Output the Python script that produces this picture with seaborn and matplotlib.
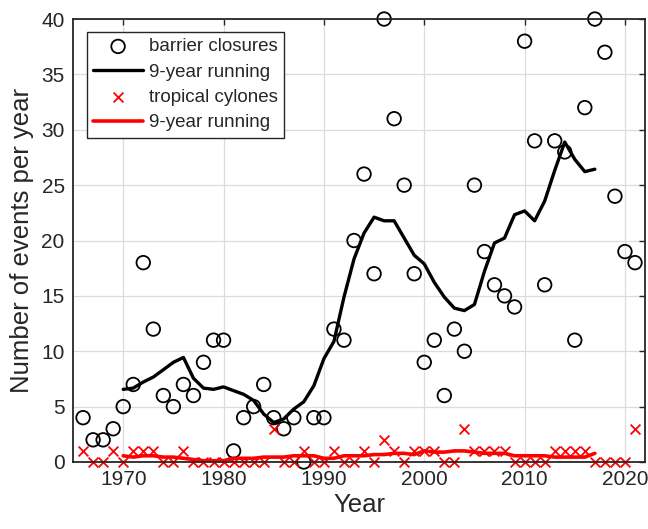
import pandas as pd
import matplotlib.pyplot as plt
import seaborn as sns

# barrier closures per year (1966-2021)
years = list(range(1966, 2022))
closures = [4, 2, 2, 3, 5, 7, 18, 12, 6, 5, 7, 6, 9, 11, 11, 1, 4, 5, 7, 4,
            3, 4, 0, 4, 4, 12, 11, 20, 26, 17, 40, 31, 25, 17, 9, 11, 6, 12, 10, 25,
            19, 16, 15, 14, 38, 29, 16, 29, 28, 11, 32, 40, 37, 24, 19, 18]
cyclones = [1, 0, 0, 1, 0, 1, 1, 1, 0, 0, 1, 0, 0, 0, 0, 0, 0, 0, 0, 3,
            0, 0, 1, 0, 0, 1, 0, 0, 1, 0, 2, 1, 0, 1, 1, 1, 0, 0, 3, 1,
            1, 1, 1, 0, 0, 0, 0, 1, 1, 1, 1, 0, 0, 0, 0, 3]

# 9-year running values (1970-2017)
run_years = list(range(1970, 2018))
closures_run = [6.56, 6.67, 7.22, 7.67, 8.33, 9.0, 9.44, 7.56, 6.67, 6.56,
                6.78, 6.44, 6.11, 5.56, 4.33, 3.56, 3.89, 4.78, 5.44, 6.89,
                9.33, 10.89, 14.89, 18.33, 20.67, 22.11, 21.78, 21.78, 20.22, 18.67,
                17.89, 16.22, 14.89, 13.89, 13.67, 14.22, 17.22, 19.78, 20.22, 22.33,
                22.67, 21.78, 23.56, 26.33, 28.89, 27.33, 26.22, 26.44]
cyclones_run = [0.56, 0.44, 0.56, 0.56, 0.44, 0.44, 0.33, 0.22, 0.11, 0.11,
                0.11, 0.33, 0.33, 0.33, 0.44, 0.44, 0.44, 0.56, 0.56, 0.56,
                0.33, 0.33, 0.56, 0.56, 0.56, 0.67, 0.67, 0.78, 0.78, 0.67,
                1.0, 0.89, 0.89, 1.0, 1.0, 0.89, 0.78, 0.78, 0.78, 0.56,
                0.56, 0.56, 0.56, 0.44, 0.44, 0.44, 0.44, 0.78]

df = pd.DataFrame({'year': years, 'closures': closures, 'cyclones': cyclones})
df_run = pd.DataFrame({'year': run_years, 'closures': closures_run, 'cyclones': cyclones_run})

sns.set_style("white")
plt.rcParams['font.family'] = ['Liberation Sans', 'DejaVu Sans']
plt.rcParams.update({
    'axes.edgecolor': '#262626',
    'xtick.color': '#262626',
    'ytick.color': '#262626',
    'axes.labelcolor': '#262626',
})

fig = plt.figure(figsize=(6.48, 5.29), dpi=100)
ax = fig.add_axes([0.1127, 0.1267, 0.8827, 0.8373])

sns.scatterplot(data=df, x='year', y='closures', marker='o', s=95,
                facecolors='none', edgecolor='black', linewidth=1.3,
                label='barrier closures', ax=ax, zorder=3)
sns.lineplot(data=df_run, x='year', y='closures', color='black', linewidth=2.4,
             label='9-year running', ax=ax, zorder=4)
sns.scatterplot(data=df, x='year', y='cyclones', marker='x', s=50,
                color='red', linewidth=1.3,
                label='tropical cylones', ax=ax, zorder=5)
sns.lineplot(data=df_run, x='year', y='cyclones', color='red', linewidth=2.6,
             label='9-year running', ax=ax, zorder=6)

for c in ax.collections:
    c.set_clip_on(False)

ax.set_xlim(1965, 2022)
ax.set_ylim(0, 40)
ax.set_xticks([1970, 1980, 1990, 2000, 2010, 2020])
ax.set_yticks(range(0, 41, 5))
ax.grid(True, color='#dcdcdc', linewidth=0.9)
ax.set_axisbelow(True)
ax.tick_params(direction='in', length=4.5, width=1.0, top=True, right=True,
               labelsize=15, pad=6)
for sp in ax.spines.values():
    sp.set_linewidth(1.3)
    sp.set_zorder(10)

ax.set_xlabel('Year', fontsize=18.5, labelpad=3)
ax.set_ylabel('Number of events per year', fontsize=18.5, labelpad=5)

leg = ax.legend(loc='upper left', bbox_to_anchor=(0.0245, 0.9707), borderaxespad=0,
                fontsize=13.5, frameon=True, fancybox=False, framealpha=1,
                edgecolor='#262626', handlelength=2.65, handletextpad=0.32,
                labelspacing=0.44, borderpad=0.33)
leg.get_frame().set_linewidth(1.0)

fig.savefig('out.png', dpi=100)
